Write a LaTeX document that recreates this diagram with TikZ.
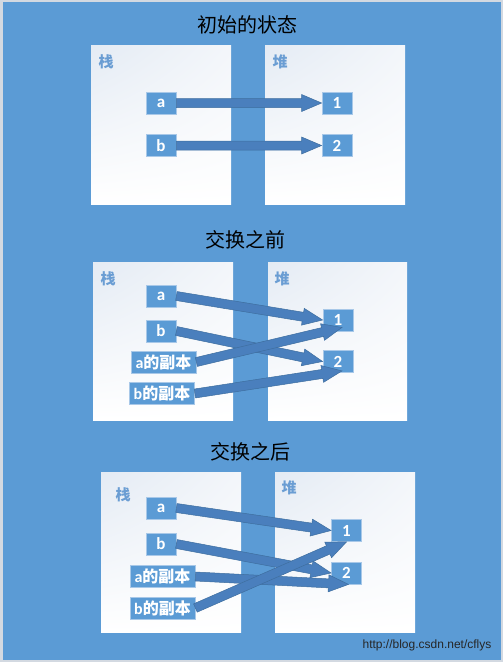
\documentclass[tikz,border=0pt]{standalone}
\usepackage{fontspec}
\setmainfont{Carlito}
\newfontfamily\cjk{Noto Sans CJK SC}
\newfontfamily\urlfont{Liberation Sans}
\usetikzlibrary{calc,shadings}
\definecolor{bgblue}{HTML}{5B9BD5}
\definecolor{edgegray}{HTML}{D3D9E1}
\definecolor{cellfill}{HTML}{5B9BD5}
\definecolor{celledge}{HTML}{A8C8E8}
\definecolor{labelblue}{HTML}{6A9DD3}
\definecolor{arrowfill}{HTML}{4A7FBD}
\definecolor{arrowedge}{HTML}{3E6E9F}
\definecolor{boxtint}{HTML}{E4EBF4}
\definecolor{boxtintb}{HTML}{F3F6FA}
\tikzset{
  cell/.style={rectangle, fill=cellfill, draw=celledge, line width=0.8pt, text=white,
    minimum height=22pt, inner sep=0pt},
  single/.style={cell, minimum width=30pt, font=\bfseries\fontsize{17}{18}\selectfont},
  wide/.style={cell, minimum width=65pt, font=\bfseries\fontsize{16}{18}\selectfont},
  title/.style={font=\cjk\fontsize{20}{24}\selectfont, text=black},
  region/.style={font=\cjk\bfseries\fontsize{15}{16}\selectfont, text=labelblue},
  panelbox/.style={upper left=boxtint, upper right=boxtintb, lower left=white, lower right=white},
  arrowshape/.style={fill=arrowfill, draw=arrowedge, line width=0.5pt, line join=miter},
}
\newcommand\blockarrow[3]{%
  \coordinate (#3-h) at ($(#2)!20pt!(#1)$);
  \path[arrowshape] ($(#1)!4.5pt!90:(#2)$) -- ($(#3-h)!4.5pt!90:(#2)$) -- ($(#3-h)!8.5pt!90:(#2)$)
    -- (#2) -- ($(#3-h)!8.5pt!-90:(#2)$) -- ($(#3-h)!4.5pt!-90:(#2)$) -- ($(#1)!4.5pt!-90:(#2)$) -- cycle;
}
\begin{document}
\begin{tikzpicture}[x=1pt,y=-1pt]
\useasboundingbox (0,0) rectangle (503,662);
\fill[edgegray] (0,0) rectangle (503,662);
\fill[bgblue] (2.5,2) rectangle (500.5,660);

% ---------- panel 1
\node[title] (t1) at (247,25) {初始的状态};
\shade[panelbox] (91,45) rectangle (231,204);
\shade[panelbox] (265,45) rectangle (405,204);
\node[region] (s1) at (106,62) {栈};
\node[region] (h1) at (280,62) {堆};
\node[single] (a1) at (161,103) {a};
\node[single] (b1) at (161,145.5) {b};
\node[single] (p11) at (337,103) {1};
\node[single] (p12) at (337,145.5) {2};
\blockarrow{a1.east}{p11.west}{r1a}
\blockarrow{b1.east}{p12.west}{r1b}

% ---------- panel 2
\node[title] (t2) at (245,240) {交换之前};
\shade[panelbox] (93,262) rectangle (233,420);
\shade[panelbox] (268,262) rectangle (407,420);
\node[region] (s2) at (108,279) {栈};
\node[region] (h2) at (282,279) {堆};
\node[single] (a2) at (161,296) {a};
\node[single] (b2) at (161,331) {b};
\node[wide] (ac2) at (163.5,362) {a{\cjk 的副本}};
\node[wide] (bc2) at (162,393.5) {b{\cjk 的副本}};
\node[single] (p21) at (338,320) {1};
\node[single] (p22) at (338,361.5) {2};
\coordinate (q21) at ($(p21.south)+(4,-4)$);
\coordinate (q22) at ($(p22.south)+(4,-2)$);
\blockarrow{a2.east}{p21.west}{r2a}
\blockarrow{b2.east}{p22.west}{r2b}
\blockarrow{ac2.east}{q21}{r2c}
\blockarrow{bc2.east}{q22}{r2d}

% ---------- panel 3
\node[title] (t3) at (250,452) {交换之后};
\shade[panelbox] (101,472) rectangle (241,632);
\shade[panelbox] (275,472) rectangle (415,632);
\node[region] (s3) at (123,495) {栈};
\node[region] (h3) at (289,488) {堆};
\node[single] (a3) at (161,508) {a};
\node[single] (b3) at (161,544) {b};
\node[wide] (ac3) at (162.5,576.5) {a{\cjk 的副本}};
\node[wide] (bc3) at (162.5,608) {b{\cjk 的副本}};
\node[single] (p31) at (346.5,530.5) {1};
\node[single] (p32) at (346.5,573) {2};
\coordinate (q32) at ($(p32.south)+(2,0)$);
\coordinate (q31) at ($(p31.south)+(0,0)$);
\blockarrow{a3.east}{p31.west}{r3a}
\blockarrow{b3.east}{p32.west}{r3b}
\blockarrow{ac3.east}{q32}{r3c}
\blockarrow{bc3.east}{q31}{r3d}

\node[font=\urlfont\fontsize{12}{14}\selectfont, text=black!85] (url) at (427,645) {http://blog.csdn.net/cflys};
\end{tikzpicture}
\end{document}
